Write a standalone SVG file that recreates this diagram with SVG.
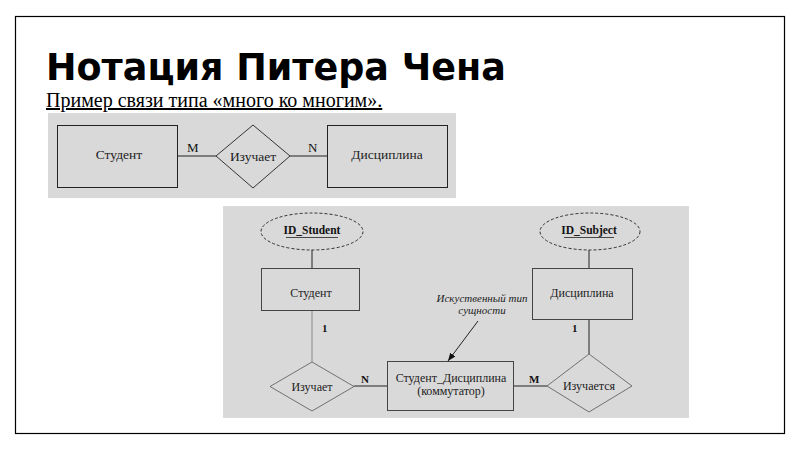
<svg xmlns="http://www.w3.org/2000/svg" width="800" height="449" viewBox="0 0 800 449">
<defs>
<style>
.panel{fill:#d9d9d9;stroke:none}
.ent{fill:#d9d9d9;stroke:#222;stroke-width:1}
.ent2{fill:#d9d9d9;stroke:#444;stroke-width:1}
.rel{fill:#d9d9d9;stroke:#333;stroke-width:1}
.rel2{fill:#d9d9d9;stroke:#555;stroke-width:0.8}
.attr{fill:#d9d9d9;stroke:#333;stroke-width:1;stroke-dasharray:3 2}
.ln{stroke:#222;stroke-width:1;fill:none}
.ln2{stroke:#888;stroke-width:1;fill:none}
.t1{font-family:"Liberation Serif","DejaVu Serif",serif;font-size:13.5px;fill:#222;text-anchor:middle}
.t2{font-family:"Liberation Serif","DejaVu Serif",serif;font-size:12px;fill:#222;text-anchor:middle}
.card{font-family:"Liberation Serif","DejaVu Serif",serif;font-size:13px;fill:#111}
.cardb{font-family:"Liberation Serif","DejaVu Serif",serif;font-size:11px;font-weight:bold;fill:#111}
.key{font-family:"Liberation Serif","DejaVu Serif",serif;font-size:11.5px;font-weight:bold;fill:#111;text-anchor:middle}
.note{font-family:"Liberation Serif","DejaVu Serif",serif;font-size:11px;font-style:italic;fill:#222;text-anchor:middle}
</style>
<marker id="arr" viewBox="0 0 10 10" refX="10" refY="5" markerWidth="8" markerHeight="8" orient="auto" markerUnits="userSpaceOnUse">
<path d="M0,1 L10,5 L0,9 Z" fill="#111"/>
</marker>
</defs>
<rect x="0" y="0" width="800" height="449" fill="#fff"/>
<rect x="15.5" y="16.5" width="769" height="417" fill="none" stroke="#000" stroke-width="1.2"/>
<text x="46" y="80" font-family="'DejaVu Sans',sans-serif" font-size="36.5" font-weight="bold" fill="#000">Нотация Питера Чена</text>
<text x="46" y="107" font-family="'Liberation Serif',serif" font-size="20" fill="#000" text-decoration="underline">Пример связи типа «много ко многим».</text>

<rect class="panel" x="48" y="113" width="408" height="85"/>
<rect class="panel" x="223" y="206" width="466" height="212"/>

<g id="connectors">
<line class="ln" x1="178" y1="156" x2="216" y2="156"/>
<line class="ln" x1="290" y1="156" x2="327" y2="156"/>
<line class="ln" x1="312" y1="250" x2="312" y2="268"/>
<line class="ln2" x1="312" y1="310" x2="312" y2="362"/>
<line class="ln" x1="354" y1="386" x2="387" y2="386"/>
<line class="ln" x1="514" y1="386" x2="547" y2="386"/>
<line class="ln" x1="589" y1="250" x2="589" y2="268"/>
<line class="ln" x1="589" y1="319" x2="589" y2="354"/>
<line class="ln" x1="478" y1="321" x2="448" y2="361" marker-end="url(#arr)"/>
<text class="card" x="187" y="152">M</text>
<text class="card" x="308" y="152">N</text>
<text class="cardb" x="322" y="332">1</text>
<text class="cardb" x="361" y="383">N</text>
<text class="cardb" x="529" y="383">M</text>
<text class="cardb" x="572" y="332">1</text>
</g>

<g id="student1">
<rect class="ent" x="57.5" y="125.5" width="120" height="62"/>
<text class="t1" x="119" y="159">Студент</text>
</g>
<g id="izuchaet1">
<polygon class="rel" points="253,125 290,156 253,188 216,156"/>
<text class="t1" x="253" y="161">Изучает</text>
</g>
<g id="disciplina1">
<rect class="ent" x="327.5" y="125.5" width="120" height="62"/>
<text class="t1" x="387" y="159">Дисциплина</text>
</g>

<g id="id_student">
<ellipse class="attr" cx="312" cy="231.5" rx="51" ry="18.5"/>
<text class="key" x="312" y="234">ID_Student</text>
<line x1="286" y1="237.5" x2="338" y2="237.5" stroke="#222" stroke-width="0.8"/>
</g>
<g id="student2">
<rect class="ent2" x="261.5" y="268.5" width="98" height="42"/>
<text class="t2" x="311" y="297">Студент</text>
</g>
<g id="izuchaet2">
<polygon class="rel2" points="312,362 354,386.5 312,411 270,386.5"/>
<text class="t2" x="312" y="391">Изучает</text>
</g>
<g id="student_disciplina">
<rect class="ent2" x="387.5" y="361.5" width="126" height="49"/>
<text class="t2" x="451" y="382">Студент_Дисциплина</text>
<text class="t2" x="451" y="395">(коммутатор)</text>
</g>
<g id="izuchaetsya">
<polygon class="rel2" points="589,354 632,386 589,412 547,386"/>
<text class="t2" x="589" y="390">Изучается</text>
</g>
<g id="disciplina2">
<rect class="ent2" x="532.5" y="268.5" width="100" height="51"/>
<text class="t2" x="582" y="297">Дисциплина</text>
</g>
<g id="id_subject">
<ellipse class="attr" cx="590" cy="231.5" rx="50" ry="18.5"/>
<text class="key" x="589" y="234">ID_Subject</text>
<line x1="564" y1="237.5" x2="614" y2="237.5" stroke="#222" stroke-width="0.8"/>
</g>
<g id="note">
<text class="note" x="482" y="302">Искуственный тип</text>
<text class="note" x="482" y="314">сущности</text>
</g>
</svg>
